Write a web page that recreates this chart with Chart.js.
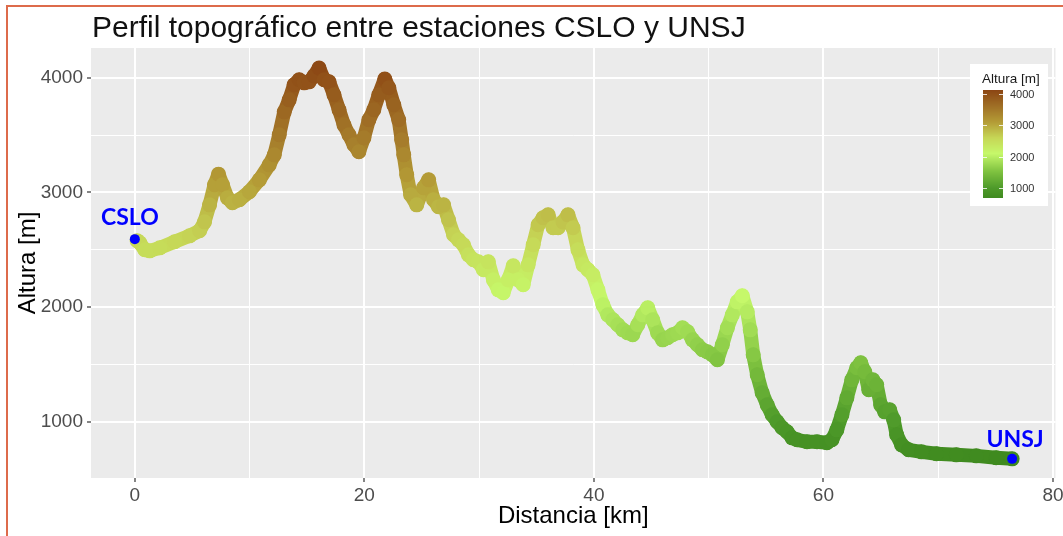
<!DOCTYPE html>
<html>
<head>
<meta charset="utf-8">
<script src="https://cdn.jsdelivr.net/npm/chart.js@4.4.1/dist/chart.umd.min.js"></script>
<style>
  html, body { margin: 0; padding: 0; background: #ffffff; }
  #wrap { position: relative; width: 1063px; height: 536px; }
</style>
</head>
<body>
<div id="wrap"><canvas id="c"></canvas></div>
<script>
// ---------------- DATA ----------------
const distKm = [0.2, 0.43, 0.87, 1.3, 2.17, 3.47, 4.77, 5.64, 6.07, 6.51, 6.94, 7.29, 7.64, 8.07, 8.5, 9.11, 9.98,
  10.85, 11.71, 12.15, 12.58, 13.02, 13.45, 13.88, 14.32, 14.75, 15.18, 15.62, 16.05, 16.49, 16.92, 17.35, 17.79,
  18.22, 18.66, 19.09, 19.52, 19.96, 20.39, 20.82, 21.26, 21.78, 22.13, 22.56, 22.99, 23.25, 23.43, 23.69, 24.03,
  24.56, 25.16, 25.6, 26.03, 26.46, 26.9, 27.33, 27.77, 28.2, 28.63, 29.07, 29.5, 29.93, 30.37, 30.8, 31.24, 31.67,
  32.1, 32.54, 32.97, 33.41, 33.84, 34.27, 34.71, 35.14, 35.57, 36.01, 36.44, 36.88, 37.31, 37.74, 38.18, 38.61,
  39.05, 39.48, 39.91, 40.35, 40.78, 41.21, 41.65, 42.08, 42.52, 42.95, 43.38, 43.82, 44.25, 44.69, 45.12, 45.55,
  45.99, 46.42, 46.85, 47.29, 47.72, 48.16, 48.59, 49.02, 49.46, 49.89, 50.33, 50.76, 51.19, 51.63, 52.06, 52.49,
  52.93, 53.36, 53.62, 53.88, 54.23, 54.66, 55.1, 55.53, 55.97, 56.4, 56.83, 57.27, 57.7, 58.57, 59.44, 60.3,
  60.74, 61.17, 61.61, 62.04, 62.47, 62.91, 63.25, 63.6, 63.95, 64.3, 64.64, 64.99, 65.34, 65.77, 66.12, 66.38,
  66.81, 67.42, 68.55, 69.85, 71.58, 73.32, 75.05, 76.44];
const altM = [2580, 2561, 2500, 2491, 2517, 2570, 2622, 2666, 2744, 2892, 3067, 3160, 3067, 2953, 2910, 2936, 3006,
  3110, 3241, 3328, 3503, 3703, 3808, 3939, 3983, 3956, 3965, 4017, 4085, 3983, 3965, 3852, 3721,
  3590, 3503, 3416, 3355, 3477, 3634, 3721, 3852, 3990, 3913, 3765, 3634, 3459, 3328, 3154, 2980,
  2892, 3041, 3110, 2936, 2875, 2892, 2762, 2631, 2587, 2544, 2456, 2413, 2395, 2326, 2395, 2238, 2151,
  2125, 2238, 2360, 2238, 2195, 2369, 2544, 2718, 2779, 2805, 2692, 2692, 2744, 2805, 2692, 2500,
  2369, 2326, 2282, 2151, 2020, 1933, 1890, 1846, 1802, 1776, 1759, 1846, 1933, 1994, 1890, 1776,
  1715, 1733, 1759, 1776, 1820, 1785, 1715, 1672, 1628, 1610, 1584, 1541, 1672, 1820, 1933, 2046,
  2099, 1959, 1802, 1584, 1410, 1253, 1148, 1061, 1000, 948, 913, 860, 843, 826, 826, 817,
  843, 930, 1061, 1209, 1366, 1471, 1515, 1436, 1279, 1366, 1323, 1148, 1087, 1105, 1017, 887,
  799, 756, 738, 721, 712, 703, 686, 677];

const stationNames = ['CSLO', 'UNSJ'];
const stationKm = [0, 76.44];
const stationAlt = [2593, 677];

const xMajorTicks = [0, 20, 40, 60, 80];
const xMinorTicks = [10, 30, 50, 70];
const yMajorTicks = [1000, 2000, 3000, 4000];
const yMinorTicks = [1500, 2500, 3500];
const legendTicks = [1000, 2000, 3000, 4000];

const titleText = 'Perfil topográfico entre estaciones CSLO y UNSJ';
const xTitle = 'Distancia [km]';
const yTitle = 'Altura [m]';
const legendTitle = 'Altura [m]';

// ---------------- STYLE ----------------
const colorStops = [
  [680, [63, 138, 31]],
  [1000, [78, 154, 42]],
  [1500, [124, 192, 62]],
  [2100, [198, 248, 106]],
  [2600, [198, 214, 86]],
  [3100, [180, 156, 54]],
  [3600, [160, 112, 38]],
  [4130, [139, 69, 19]]
];
function colorAt(v) {
  if (v <= colorStops[0][0]) return 'rgb(' + colorStops[0][1].join(',') + ')';
  for (let i = 1; i < colorStops.length; i++) {
    if (v <= colorStops[i][0]) {
      const [v0, c0] = colorStops[i - 1], [v1, c1] = colorStops[i];
      const t = (v - v0) / (v1 - v0);
      const c = c0.map((a, k) => Math.round(a + (c1[k] - a) * t));
      return 'rgb(' + c.join(',') + ')';
    }
  }
  return 'rgb(' + colorStops[colorStops.length - 1][1].join(',') + ')';
}

const FONT = '"Liberation Sans", Arial, sans-serif';
const xAll = xMajorTicks.concat(xMinorTicks).sort((a, b) => a - b);
const yAll = yMajorTicks.concat(yMinorTicks).sort((a, b) => a - b);

const decorPlugin = {
  id: 'decor',
  beforeDraw(chart) {
    const ctx = chart.ctx, a = chart.chartArea;
    ctx.save();
    ctx.fillStyle = '#ffffff';
    ctx.fillRect(0, 0, chart.width, chart.height);
    ctx.fillStyle = '#EBEBEB';
    ctx.fillRect(a.left, a.top, a.right - a.left, a.bottom - a.top);
    ctx.restore();
  },
  afterDraw(chart) {
    const ctx = chart.ctx;
    const xs = chart.scales.x, ys = chart.scales.y;
    ctx.save();
    // frame lines
    ctx.fillStyle = '#DD6B4B';
    ctx.fillRect(6, 5, 2, chart.height - 5);
    ctx.fillRect(6, 5, chart.width - 6, 2);
    // title
    ctx.fillStyle = '#111111';
    ctx.font = '30px ' + FONT;
    ctx.textAlign = 'left';
    ctx.textBaseline = 'alphabetic';
    ctx.fillText(titleText, 92, 37);
    // station labels
    ctx.fillStyle = '#0000FF';
    ctx.font = 'bold 23px Lato, "Open Sans", sans-serif';
    ctx.textAlign = 'center';
    ctx.textBaseline = 'middle';
    const offs = [[-5, -22], [3, -19]];
    stationNames.forEach((n, i) => {
      const px = xs.getPixelForValue(stationKm[i]);
      const py = ys.getPixelForValue(stationAlt[i]);
      ctx.fillText(n, px + offs[i][0], py + offs[i][1]);
    });
    // colour legend
    const L = 970, T = 64, W = 78, H = 142;
    ctx.fillStyle = '#ffffff';
    ctx.fillRect(L, T, W, H);
    ctx.fillStyle = '#1a1a1a';
    ctx.font = '13.5px ' + FONT;
    ctx.textAlign = 'left';
    ctx.textBaseline = 'middle';
    ctx.fillText(legendTitle, 982, 79);
    const bx = 983, bw = 20, btop = 90, bbot = 198;
    const vTop = 4128, vBot = 681;
    const vy = v => btop + (vTop - v) / (vTop - vBot) * (bbot - btop);
    for (let y = btop; y < bbot; y++) {
      const v = vTop - (y + 0.5 - btop) / (bbot - btop) * (vTop - vBot);
      ctx.fillStyle = colorAt(v);
      ctx.fillRect(bx, y, bw, 1);
    }
    ctx.font = '11px ' + FONT;
    ctx.fillStyle = '#333333';
    legendTicks.forEach(v => {
      const y = Math.round(vy(v)) + 0.5;
      ctx.strokeStyle = 'rgba(255,255,255,0.8)';
      ctx.lineWidth = 1;
      ctx.beginPath();
      ctx.moveTo(bx, y); ctx.lineTo(bx + 4, y);
      ctx.moveTo(bx + bw - 4, y); ctx.lineTo(bx + bw, y);
      ctx.stroke();
      ctx.fillText(String(v), 1010, y);
    });
    ctx.restore();
  }
};

const chart = new Chart(document.getElementById('c'), {
  type: 'line',
  data: {
    datasets: [
      {
        label: 'Estaciones',
        type: 'scatter',
        order: -1,
        data: stationKm.map((x, i) => ({ x: x, y: stationAlt[i] })),
        pointRadius: 5,
        pointBackgroundColor: '#0000FF',
        pointBorderWidth: 0,
        showLine: false
      },
      {
        label: 'Altura',
        order: 1,
        data: distKm.map((x, i) => ({ x: x, y: altM[i] })),
        borderWidth: 14,
        borderCapStyle: 'round',
        borderJoinStyle: 'round',
        borderColor: colorAt(2000),
        segment: {
          borderColor: c => colorAt((c.p0.parsed.y + c.p1.parsed.y) / 2)
        },
        pointRadius: 7.5,
        pointBorderWidth: 0,
        pointBackgroundColor: c => colorAt(c.parsed ? c.parsed.y : 2000),
        tension: 0,
        fill: false
      }
    ]
  },
  options: {
    responsive: true,
    maintainAspectRatio: false,
    animation: false,
    events: [],
    layout: { padding: { top: 48, right: 3, left: 0, bottom: 0 } },
    plugins: { legend: { display: false }, tooltip: { enabled: false }, title: { display: false } },
    scales: {
      x: {
        type: 'linear',
        min: -3.82,
        max: 80.22,
        afterBuildTicks: s => { s.ticks = xAll.map(v => ({ value: v })); },
        afterFit: s => { s.height = 58; s.paddingLeft = 0; s.paddingRight = 0; },
        border: { display: false },
        grid: {
          color: c => '#ffffff',
          lineWidth: c => (xMajorTicks.includes(c.tick.value) ? 2 : 1),
          tickColor: c => (xMajorTicks.includes(c.tick.value) ? '#333333' : 'rgba(0,0,0,0)'),
          tickLength: 4,
          tickWidth: 1.2
        },
        ticks: {
          autoSkip: false,
          maxRotation: 0,
          padding: 2,
          color: '#4D4D4D',
          font: { family: FONT, size: 19 },
          callback: v => (xMajorTicks.includes(v) ? String(v) : '')
        },
        title: {
          display: true,
          text: xTitle,
          color: '#000000',
          font: { family: FONT, size: 24 },
          padding: { top: 0, bottom: 5 }
        }
      },
      y: {
        min: 510,
        max: 4260,
        afterBuildTicks: s => { s.ticks = yAll.map(v => ({ value: v })); },
        afterFit: s => { s.width = 91; s.paddingTop = 0; s.paddingBottom = 0; },
        border: { display: false },
        grid: {
          color: c => '#ffffff',
          lineWidth: c => (yMajorTicks.includes(c.tick.value) ? 2 : 1),
          tickColor: c => (yMajorTicks.includes(c.tick.value) ? '#333333' : 'rgba(0,0,0,0)'),
          tickLength: 4,
          tickWidth: 1.2
        },
        ticks: {
          autoSkip: false,
          padding: 4,
          color: '#4D4D4D',
          font: { family: FONT, size: 19 },
          callback: v => (yMajorTicks.includes(v) ? String(v) : '')
        },
        title: {
          display: true,
          text: yTitle,
          color: '#000000',
          font: { family: FONT, size: 24 },
          padding: { top: 14, bottom: 0 }
        }
      }
    }
  },
  plugins: [decorPlugin]
});
</script>
</body>
</html>
